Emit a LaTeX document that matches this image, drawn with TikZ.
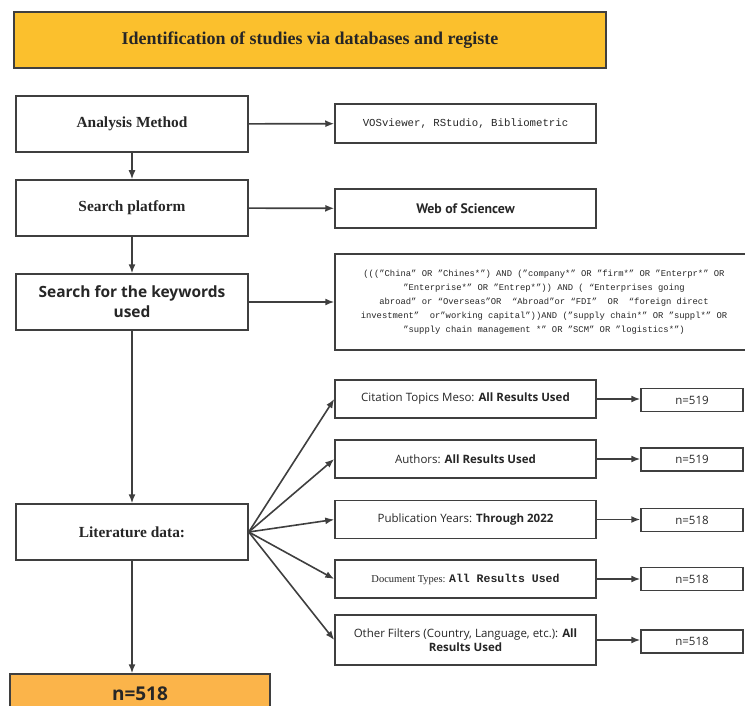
\documentclass[tikz,border=0pt]{standalone}
\usepackage{fontspec}
\setmainfont{Liberation Serif}
\setsansfont{Open Sans}
\setmonofont{Liberation Mono}
\newfontfamily\narrowsans{PT Sans}
\usepackage{tikz}
\usetikzlibrary{arrows.meta}
\definecolor{boxline}{HTML}{3F3F3F}
\definecolor{titlefill}{HTML}{FBC02D}
\definecolor{resultfill}{HTML}{FBB44A}
\tikzstyle{box}=[draw=boxline,line width=1.5pt,rectangle,align=center,inner sep=2pt,text=black!85]
\tikzstyle{stepbox}=[box,minimum width=232pt,minimum height=56pt]
\tikzstyle{sidebox}=[box,minimum width=261pt,minimum height=38pt]
\tikzstyle{countbox}=[box,minimum width=102pt,minimum height=23pt,font=\sffamily\fontsize{11.5}{14}\selectfont]
\tikzstyle{arrow}=[-{Latex[length=9pt,width=7pt]},line width=1.6pt,draw=boxline]

\begin{document}
\begin{tikzpicture}[x=1pt,y=-1pt,font=\sffamily\fontsize{11.5}{14}\selectfont]
	\useasboundingbox (0,0) rectangle (745,706);

	%header
	\node[box,fill=titlefill,minimum width=592pt,minimum height=56pt,
	font=\rmfamily\bfseries\fontsize{18}{21}\selectfont] (title) at (310,40)
	{Identification of studies via databases and registe};

	%main column
	\node[stepbox,font=\rmfamily\bfseries\fontsize{15.4}{18}\selectfont] (method) at (132,124) {Analysis Method};
	\node[stepbox,font=\rmfamily\bfseries\fontsize{15.4}{18}\selectfont] (platform) at (132,208) {Search platform};
	\node[stepbox,font=\sffamily\bfseries\fontsize{15.5}{20}\selectfont] (keywords) at (132,302) {Search for the keywords\\used};
	\node[stepbox,font=\rmfamily\bfseries\fontsize{15.4}{18}\selectfont] (literature) at (132,532) {Literature data:};
	\node[box,fill=resultfill,minimum width=260pt,minimum height=40pt,
	font=\sffamily\bfseries\fontsize{19}{22}\selectfont] (result) at (140,694) {n=518};

	%right column
	\node[box,minimum width=261pt,minimum height=39pt,font=\ttfamily\fontsize{10.7}{12}\selectfont] (tools) at (465.5,123.5) {VOSviewer, RStudio, Bibliometric};
	\node[box,minimum width=261pt,minimum height=39pt,font=\narrowsans\bfseries\fontsize{13.8}{16}\selectfont] (wos) at (465.5,208.5) {Web of Sciencew};
	\node[box,minimum width=418pt,minimum height=96pt,font=\ttfamily\fontsize{8.85}{14}\selectfont] (query) at (544,302)
	{(((”China” OR ”Chines*”) AND (”company*” OR ”firm*” OR ”Enterpr*” OR\\
	”Enterprise*” OR ”Entrep*”)) AND ( “Enterprises going\\
	abroad” or “Overseas”OR \ “Abroad”or “FDI” \ OR \ “foreign direct\\
	investment” \ or”working capital”))AND (”supply chain*” OR ”suppl*” OR\\
	”supply chain management *” OR ”SCM” OR ”logistics*”)};

	%filters
	\node[sidebox] (topics) at (465.5,399) {Citation Topics Meso: \textbf{All Results Used}};
	\node[sidebox] (authors) at (465.5,459) {Authors: \textbf{All Results Used}};
	\node[sidebox] (years) at (465.5,519.5) {Publication Years: \textbf{Through 2022}};
	\node[sidebox] (doctypes) at (465.5,579)
	{{\rmfamily\fontsize{10.5}{12}\selectfont Document Types: }{\ttfamily\bfseries\fontsize{11.5}{12}\selectfont All Results Used}};
	\node[sidebox,minimum height=50pt] (others) at (465.5,640)
	{Other Filters (Country, Language, etc.): \textbf{All}\\\textbf{Results Used}};

	%counts
	\node[countbox] (n1) at (692,400) {n=519};
	\node[countbox] (n2) at (692,459.5) {n=519};
	\node[countbox] (n3) at (692,520) {n=518};
	\node[countbox] (n4) at (692,579) {n=518};
	\node[countbox] (n5) at (692,641.5) {n=518};

	%arrows
	\draw[arrow] (method) -- (platform);
	\draw[arrow] (platform) -- (keywords);
	\draw[arrow] (keywords) -- (literature);
	\draw[arrow] (literature.south) -- (literature.south |- result.north);
	\draw[arrow] (method) -- (tools);
	\draw[arrow] (platform) -- (wos);
	\draw[arrow] (keywords.east) -- (keywords.east -| query.west);
	\foreach \f/\n in {topics/n1,authors/n2,years/n3,doctypes/n4,others/n5}{
		\draw[arrow] (literature.east) -- (\f.west);
		\draw[arrow] (\f.east) -- (\f.east -| \n.west);
	}
\end{tikzpicture}
\end{document}
